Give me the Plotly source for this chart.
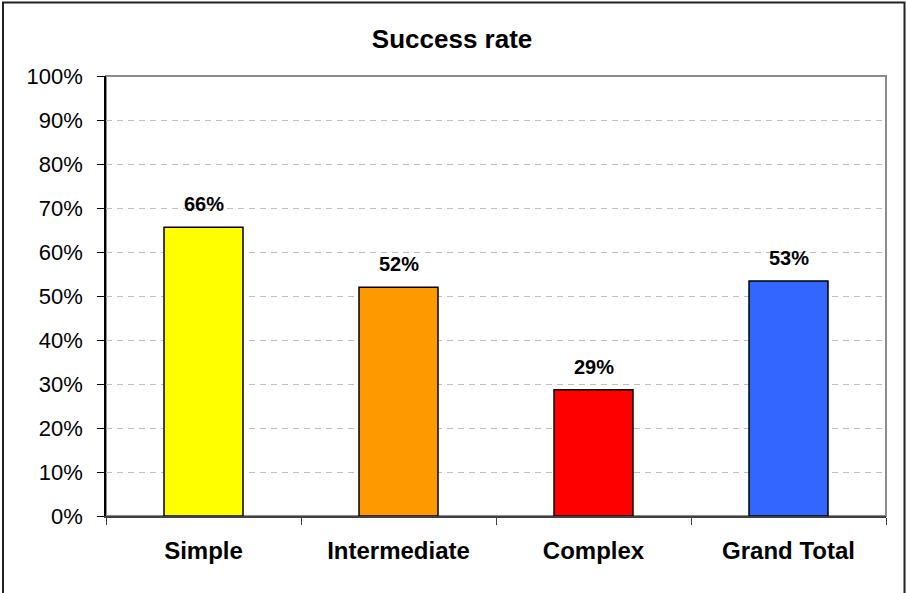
import plotly.graph_objects as go

categories = ["Simple", "Intermediate", "Complex", "Grand Total"]
success_rate = [0.656, 0.520, 0.287, 0.534]
bar_colors = ["#FFFF00", "#FF9900", "#FF0000", "#3366FF"]
y_ticks = [i / 10 for i in range(11)]
y_tick_labels = [f"{i * 10}%" for i in range(11)]

W, H = 906, 593
L, R, T, B = 106, 886, 76, 516
pw, ph = R - L, B - T

def px_x(px):
    return (px - L) / pw

def px_y(py):
    return (B - py) / ph

fig = go.Figure()
fig.add_trace(go.Bar(
    x=categories, y=success_rate,
    marker=dict(color=bar_colors, line=dict(color="#000000", width=1.5)),
    width=0.405,
    hoverinfo="skip",
))

for c, v in zip(categories, success_rate):
    fig.add_annotation(x=c, y=v, text=f"<b>{round(v * 100)}%</b>", showarrow=False,
                       yanchor="bottom", yshift=10,
                       font=dict(family="Liberation Sans, Arial", size=20, color="#000000"))

# plot area border (grey) and outer chart border
fig.add_shape(type="rect", xref="paper", yref="paper", x0=0, y0=0, x1=1, y1=1,
              line=dict(color="#8c8c8c", width=2), layer="below")
fig.add_shape(type="rect", xref="paper", yref="paper",
              x0=px_x(3), y0=px_y(620), x1=px_x(904.5), y1=px_y(2.5),
              line=dict(color="#222222", width=2), layer="above")

fig.update_layout(
    width=W, height=H,
    margin=dict(l=L, r=W - R, t=T, b=H - B),
    paper_bgcolor="white", plot_bgcolor="white",
    showlegend=False,
    title=dict(text="<b>Success rate</b>", x=0.499, xref="container", xanchor="center",
               y=1 - 39 / H, yref="container", yanchor="middle",
               font=dict(family="Liberation Sans, Arial", size=26, color="#000000")),
    font=dict(family="Liberation Sans, Arial", color="#000000"),
)

fig.update_xaxes(
    type="category", tickson="boundaries", ticks="outside", ticklen=7, tickcolor="#404040",
    showline=True, linecolor="#404040", linewidth=1.5, showgrid=False,
    tickfont=dict(family="Liberation Sans, Arial", size=24, color="#000000"),
    ticklabelstandoff=12,
    tickvals=categories, ticktext=[f"<b>{c}</b>" for c in categories],
)
fig.update_yaxes(
    range=[0, 1], tickvals=y_ticks, ticktext=y_tick_labels,
    ticks="outside", ticklen=7, tickcolor="#000000",
    showline=True, linecolor="#000000", linewidth=1.5,
    showgrid=True, gridcolor="#c0c0c0", griddash="6px,5px", gridwidth=1,
    zeroline=False,
    tickfont=dict(family="Liberation Sans, Arial", size=22, color="#000000"),
    ticklabelstandoff=10,
)

fig.write_html("out.html")
